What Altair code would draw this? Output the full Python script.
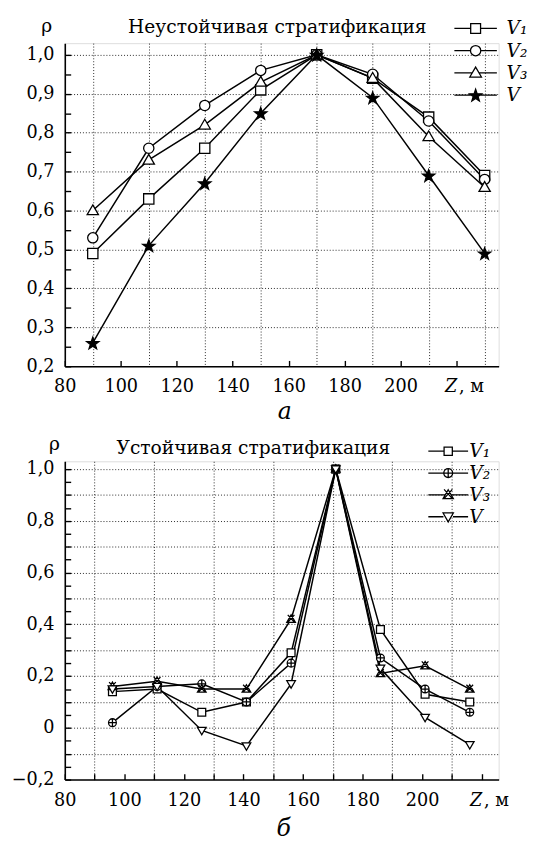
import altair as alt
import pandas as pd

FONT = "DejaVu Serif"

# ---------------- data ----------------
series_names = ["V1", "V2", "V3", "V"]

# panel a (unstable stratification)
top_z = [90, 110, 130, 150, 170, 190, 210, 230]
top_V1 = [0.49, 0.63, 0.76, 0.91, 1.00, 0.94, 0.84, 0.69]
top_V2 = [0.53, 0.76, 0.87, 0.96, 1.00, 0.95, 0.83, 0.68]
top_V3 = [0.60, 0.73, 0.82, 0.93, 1.00, 0.94, 0.79, 0.66]
top_V = [0.26, 0.51, 0.67, 0.85, 1.00, 0.89, 0.69, 0.49]

# panel b (stable stratification)
bot_z = [96, 111, 126, 141, 156, 171, 186, 201, 216]
bot_V1 = [0.14, 0.15, 0.06, 0.10, 0.29, 1.00, 0.38, 0.13, 0.10]
bot_V2 = [0.02, 0.16, 0.17, 0.10, 0.25, 1.00, 0.27, 0.15, 0.06]
bot_V3 = [0.16, 0.18, 0.15, 0.15, 0.42, 1.00, 0.21, 0.24, 0.15]
bot_V = [0.15, 0.16, -0.01, -0.07, 0.17, 1.00, 0.23, 0.04, -0.065]

# axis values
top_x_labels = [80, 100, 120, 140, 160, 180, 200, 220]
top_x_ticks = [80, 100, 120, 140, 160, 180, 200, 220]
top_x_grid = [90, 110, 130, 150, 170, 190, 210, 230]
top_y_labels = [0.2, 0.3, 0.4, 0.5, 0.6, 0.7, 0.8, 0.9, 1.0]
top_y_ticks = [0.2, 0.25, 0.3, 0.35, 0.4, 0.45, 0.5, 0.55, 0.6, 0.65, 0.7,
               0.75, 0.8, 0.85, 0.9, 0.95, 1.0]
top_y_grid = [0.3, 0.4, 0.5, 0.6, 0.7, 0.8, 0.9, 1.0]

bot_x_labels = [80, 100, 120, 140, 160, 180, 200, 220]
bot_x_ticks = [80, 90, 100, 110, 120, 130, 140, 150, 160, 170, 180, 190, 200, 210, 220]
bot_x_grid = [90, 110, 130, 150, 170, 190, 210]
bot_y_labels = [-0.2, 0.0, 0.2, 0.4, 0.6, 0.8, 1.0]
bot_y_ticks = [-0.2, -0.15, -0.1, -0.05, 0.0, 0.05, 0.1, 0.15, 0.2, 0.25, 0.3,
               0.35, 0.4, 0.45, 0.5, 0.55, 0.6, 0.65, 0.7, 0.75, 0.8, 0.85,
               0.9, 0.95, 1.0]
bot_y_grid = [-0.1, 0.0, 0.1, 0.2, 0.3, 0.4, 0.5, 0.6, 0.7, 0.8, 0.9, 1.0]


def long_df(z, cols):
    rows = []
    for name, vals in zip(series_names, cols):
        for zz, v in zip(z, vals):
            rows.append({"z": zz, "rho": v, "series": name})
    return pd.DataFrame(rows)


top_df = long_df(top_z, [top_V1, top_V2, top_V3, top_V])
bot_df = long_df(bot_z, [bot_V1, bot_V2, bot_V3, bot_V])

# ---------------- marker shapes ----------------
STAR = ("M0,-1.13L0.294,-0.285L1.189,-0.266L0.476,0.275L0.735,1.131L0,0.62"
        "L-0.735,1.131L-0.476,0.275L-1.189,-0.266L-0.294,-0.285Z")
top_marks = [
    "M-1,-1H1V1H-1Z",
    "M1,0A1,1,0,1,1,-1,0A1,1,0,1,1,1,0Z",
    "M0,-1.1L1.1,0.8H-1.1Z",
    STAR,
]
bot_marks = [
    "M-1,-1H1V1H-1Z",
    "M1,0A1,1,0,1,1,-1,0A1,1,0,1,1,1,0ZM-1,0H1M0,-1V1",
    "M0,-1.1L1.1,0.8H-1.1ZM-0.85,-1.1L0.85,0.8M0.85,-1.1L-0.85,0.8",
    "M-1.1,-0.8H1.1L0,1.1Z",
]
top_legend_marks = [
    "M-3.1,0H-0.72M0.72,0H3.1M-0.72,-0.72H0.72V0.72H-0.72Z",
    "M-3.1,0H-0.75M0.75,0H3.1M0.75,0A0.75,0.75,0,1,1,-0.75,0A0.75,0.75,0,1,1,0.75,0Z",
    "M-3.1,0H-0.5M0.5,0H3.1M0,-0.85L0.85,0.6H-0.85Z",
    "M-3.1,0H-0.6M0.6,0H3.1M0,-0.85L0.22,-0.21L0.89,-0.2L0.36,0.21L0.55,0.85L0,0.47"
    "L-0.55,0.85L-0.36,0.21L-0.89,-0.2L-0.22,-0.21Z",
]
bot_legend_marks = [
    "M-2.9,0H-0.6M0.6,0H2.9M-0.6,-0.6H0.6V0.6H-0.6Z",
    "M-2.9,0H-0.65M0.65,0H2.9M0.65,0A0.65,0.65,0,1,1,-0.65,0A0.65,0.65,0,1,1,0.65,0ZM-0.65,0H0.65M0,-0.65V0.65",
    "M-2.9,0H-0.45M0.45,0H2.9M0,-0.75L0.75,0.55H-0.75ZM-0.6,-0.8L0.6,0.55M0.6,-0.8L-0.6,0.55",
    "M-2.9,0H-0.7M0.7,0H2.9M-0.75,-0.55H0.75L0,0.75Z",
]
top_fills = ["white", "white", "white", "black"]
bot_fills = ["white", "white", "white", "white"]
strokes = ["black", "black", "black", "black"]

W = 443
label_map_expr = "{'V1': 'V₁', 'V2': 'V₂', 'V3': 'V₃', 'V': 'V'}[datum.label]"


def panel(df, x_domain, y_domain, h, xlab, xtick, xgrid, ylab, ylab_expr, ytick, ygrid,
          marks, fills, msize, lmarks, lx, ly, lrowpad, loffset,
          title_text, tx, ty, rho_x, rho_y, letter, let_x, let_y, comma_x):
    xs = alt.Scale(domain=x_domain, nice=False, zero=False)
    ys = alt.Scale(domain=y_domain, nice=False, zero=False)
    txt = dict(titleFont=FONT, titleFontWeight="normal", titleColor="black")
    gridstyle = dict(grid=True, gridDash=[1, 2], gridColor="#000", gridOpacity=0.85,
                     gridWidth=1, domain=False, ticks=False, labels=False, title=None)

    grid_layer = alt.Chart(df).mark_line(opacity=0).encode(
        x=alt.X("z:Q", scale=xs, axis=alt.Axis(orient="bottom", values=xgrid, **gridstyle)),
        y=alt.Y("rho:Q", scale=ys, axis=alt.Axis(orient="left", values=ygrid, **gridstyle)),
        detail="series:N",
    )

    line_layer = alt.Chart(df).mark_line(color="black", strokeWidth=1.5).encode(
        x=alt.X("z:Q", scale=xs, axis=alt.Axis(
            orient="bottom", values=xlab,
            labelExpr="datum.value == 220 ? 'Z' : format(datum.value, 'd')",
            labelFontStyle={"condition": {"test": "datum.value == 220", "value": "italic"},
                            "value": "normal"},
            labelAlign={"condition": {"test": "datum.value == 220", "value": "right"},
                        "value": "center"},
            grid=False, ticks=False, tickSize=0, domain=True, domainColor="black",
            domainWidth=1.6, labelFont=FONT, labelFontSize=18, labelColor="black",
            labelPadding=12, labelFlush=False, labelOverlap=False, labelBound=False,
            title=", м", titleFontSize=18, titleX=comma_x, titleY=26, titleAlign="left",
            titleBaseline="alphabetic", **txt)),
        y=alt.Y("rho:Q", scale=ys, axis=alt.Axis(
            orient="left", values=ylab, labelExpr=ylab_expr, grid=False, ticks=False,
            tickSize=0, domain=True, domainColor="black", domainWidth=1.6,
            labelFont=FONT, labelFontSize=18, labelColor="black", labelPadding=11,
            labelFlush=False, labelOverlap=False, labelBound=False,
            title="ρ", titleFontSize=19, titleAngle=0, titleX=rho_x, titleY=rho_y,
            titleAlign="center", titleBaseline="alphabetic", **txt)),
        detail="series:N",
        order="z:Q",
    )

    point_layer = alt.Chart(df).mark_point(
        filled=True, strokeWidth=1.3, size=msize, opacity=1).encode(
        x=alt.X("z:Q", scale=xs, axis=alt.Axis(
            orient="bottom", offset=-6, values=xtick, ticks=True, tickSize=6,
            tickWidth=1.4, tickColor="black", domain=False, labels=False, grid=False,
            title=letter, titleFontSize=24, titleFontStyle="italic", titleX=let_x,
            titleY=let_y, titleAlign="center", titleBaseline="alphabetic", **txt)),
        y=alt.Y("rho:Q", scale=ys, axis=alt.Axis(
            orient="left", offset=-6, values=ytick, ticks=True, tickSize=6,
            tickWidth=1.4, tickColor="black", domain=False, labels=False, grid=False,
            title=None)),
        shape=alt.Shape("series:N", scale=alt.Scale(domain=series_names, range=marks),
                        legend=None),
        fill=alt.Fill("series:N", scale=alt.Scale(domain=series_names, range=fills),
                      legend=None),
        stroke=alt.Stroke("series:N", scale=alt.Scale(domain=series_names, range=strokes),
                          legend=None),
    )

    leg = alt.Legend(
        orient="none", legendX=lx, legendY=ly, title=None, padding=0,
        symbolSize=196, symbolStrokeWidth=1.3, symbolStrokeColor="black",
        labelFont=FONT, labelFontStyle="italic", labelFontSize=19, labelColor="black",
        labelOffset=loffset, rowPadding=lrowpad, labelExpr=label_map_expr,
    )
    legend_layer = alt.Chart(df).transform_filter("false").mark_point(
        filled=True, strokeWidth=1.3, opacity=1).encode(
        x=alt.X("z:Q", scale=xs, axis=alt.Axis(
            orient="top", domain=False, ticks=False, labels=False, grid=False,
            title=title_text, titleFontSize=19, titleX=tx, titleY=ty,
            titleAlign="center", titleBaseline="alphabetic", **txt)),
        shape=alt.Shape("series:N", scale=alt.Scale(domain=series_names, range=lmarks),
                        legend=leg),
        fill=alt.Fill("series:N", scale=alt.Scale(domain=series_names, range=fills),
                      legend=leg),
        stroke=alt.Stroke("series:N", scale=alt.Scale(domain=series_names, range=strokes),
                          legend=leg),
    )

    return alt.layer(grid_layer, line_layer, point_layer, legend_layer).resolve_scale(
        shape="independent", fill="independent", stroke="independent"
    ).resolve_axis(x="independent", y="independent").resolve_legend(
        shape="independent", fill="independent", stroke="independent"
    ).properties(width=W, height=h)


top = panel(
    top_df, [80, 235], [0.2, 1.03], 330,
    top_x_labels, top_x_ticks, top_x_grid,
    top_y_labels, "replace(format(datum.value, '.1f'), '.', ',')",
    top_y_ticks, top_y_grid,
    top_marks, top_fills, 110, top_legend_marks, 410, -24.5, 2.7, 22,
    "Неустойчивая стратификация", 216.5, -11, -19, -12,
    "а", 224, 59, 402,
)
bottom = panel(
    bot_df, [80, 225.7], [-0.2, 1.03], 325,
    bot_x_labels, bot_x_ticks, bot_x_grid,
    bot_y_labels,
    "datum.value == 0 ? '0' : replace(format(datum.value, '.1f'), '.', ',')",
    bot_y_ticks, bot_y_grid,
    bot_marks, bot_fills, 64, bot_legend_marks, 382, -19.8, 2.3, 12,
    "Устойчивая стратификация", 192, -8, -11, -12,
    "б", 223, 63, 427.5,
)

chart = alt.vconcat(top, bottom, spacing=97, bounds="flush").properties(
    padding={"left": 2, "top": -1, "right": 0, "bottom": 0}
).configure_view(stroke=None).configure(font=FONT, background="white")

chart.save("out.html", embed_options={"renderer": "svg", "actions": False})
